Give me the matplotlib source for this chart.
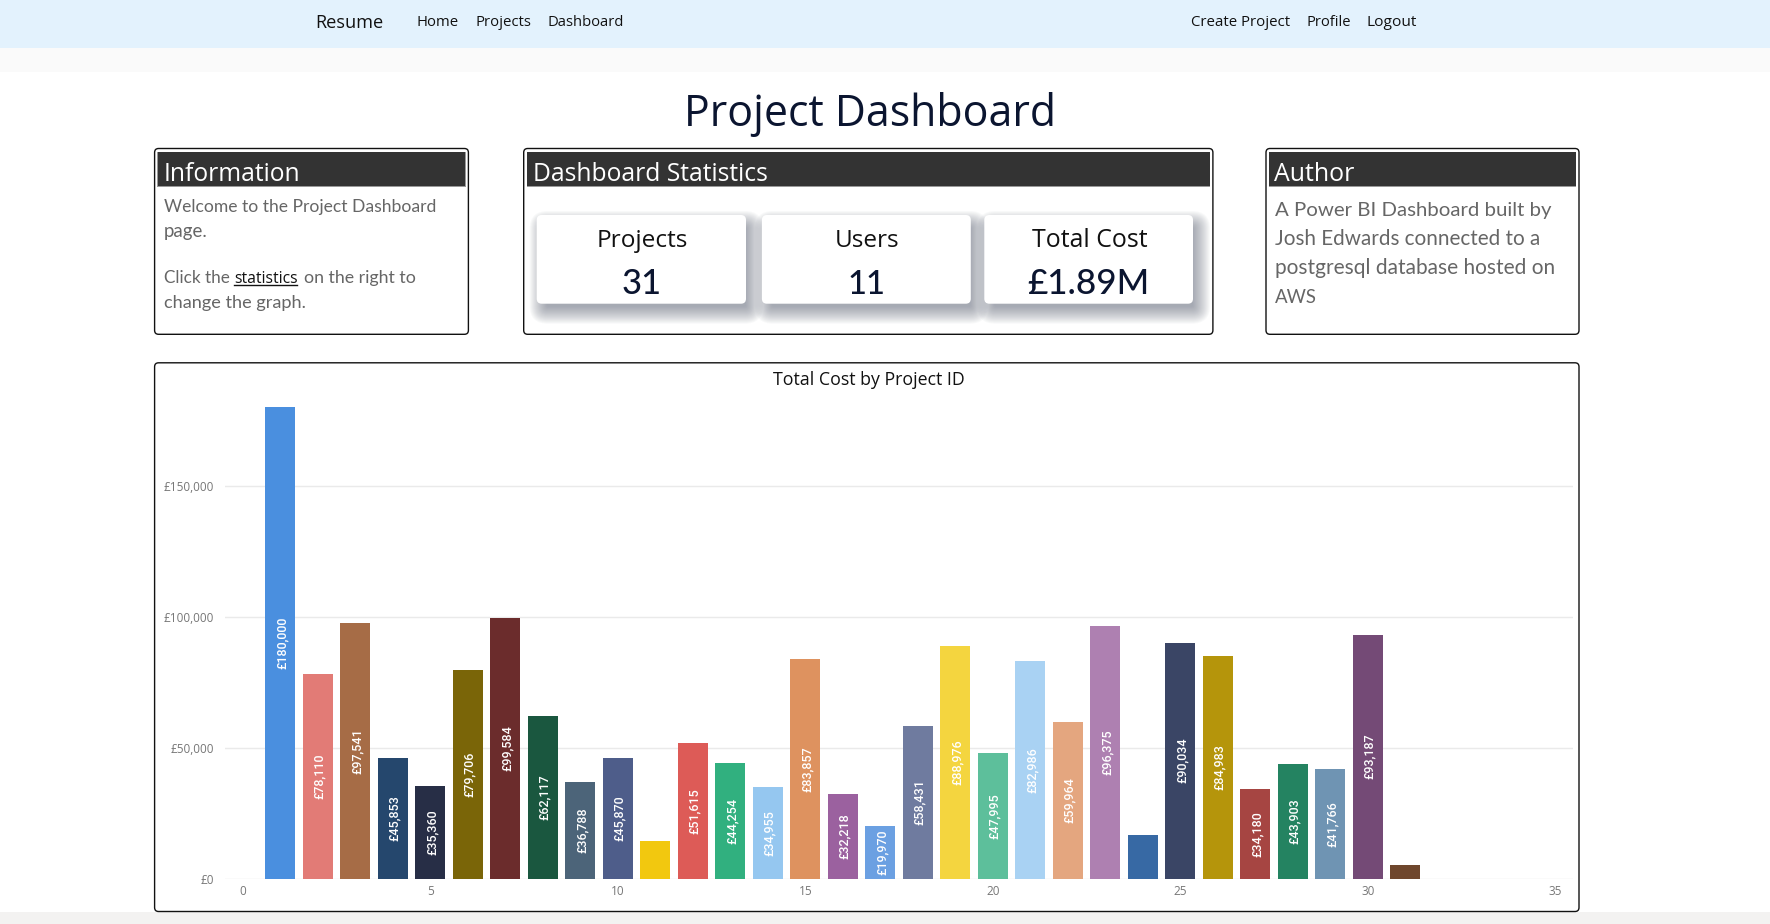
import matplotlib
matplotlib.use("Agg")
import matplotlib.pyplot as plt
from matplotlib.patches import FancyBboxPatch, Rectangle
from matplotlib.ticker import FuncFormatter

W, H = 1770, 924

project_ids = list(range(1, 32))
total_cost = [180000, 78110, 97541, 45853, 35360, 79706, 99584, 62117, 36788, 45870, 14500,
              51615, 44254, 34955, 83857, 32218, 19970, 58431, 88976, 47995, 82986, 59964,
              96375, 16500, 90034, 84983, 34180, 43903, 41766, 93187, 5100]
unlabelled_ids = [11, 24, 31]
bar_colors = ["#4A8FDF", "#E27B76", "#A66C46", "#25476D", "#272E46", "#7A6508", "#6B2C2C", "#1A573F",
              "#4C6479", "#4E5D8A", "#F2C80F", "#DD5B57", "#31B07F", "#95C7F0", "#DE925F", "#9B619F",
              "#6BA0E2", "#6F7B9F", "#F4D53F", "#5DBF9B", "#A9D2F3", "#E4A67F", "#AE80B1", "#3769A4",
              "#3A4565", "#B5950B", "#A64542", "#248361", "#6F94B3", "#744A76", "#6F472D"]
y_ticks = [0, 50000, 100000, 150000]
x_ticks = [0, 5, 10, 15, 20, 25, 30, 35]
stat_names = ["Projects", "Users", "Total Cost"]
stat_values = ["31", "11", "£1.89M"]

fig = plt.figure(figsize=(W / 100, H / 100), dpi=100, facecolor="white")
bg = fig.add_axes([0, 0, 1, 1])
bg.set_xlim(0, W)
bg.set_ylim(H, 0)
bg.axis("off")


def rect(x0, y0, x1, y1, color, z=1):
    bg.add_patch(Rectangle((x0, y0), x1 - x0, y1 - y0, fc=color, ec="none", zorder=z))


def rounded(x0, y0, x1, y1, r=3, fc="white", ec="none", lw=0, alpha=None, z=2):
    bg.add_patch(FancyBboxPatch((x0 + r, y0 + r), x1 - x0 - 2 * r, y1 - y0 - 2 * r,
                                boxstyle=f"round,pad={r},rounding_size={r}", fc=fc, ec=ec, lw=lw,
                                alpha=alpha, zorder=z, mutation_aspect=1))


def put(s, x, y, width, family="Open Sans", weight="normal", color="#111111", ha="left", z=6):
    """Place text on its baseline and size it to a measured pixel width."""
    t = bg.text(x, y, s, family=family, weight=weight, color=color, ha=ha, va="baseline",
                fontsize=20, zorder=z)
    w = t.get_window_extent(fig.canvas.get_renderer()).width
    t.set_fontsize(20 * width / w)
    return t


# page bands
rect(0, 0, W, 48, "#E3F2FD")
rect(0, 48, W, 72, "#FAFAFA")
rect(0, 912, W, H, "#F3F2F1")

# nav
put("Resume", 315.5, 28, 68)
for s, x, w in [("Home", 416.5, 42), ("Projects", 475.7, 55.5), ("Dashboard", 547.4, 76),
                ("Create Project", 1190.9, 98.5), ("Profile", 1306.6, 44.5), ("Logout", 1367, 50)]:
    put(s, x, 26, w)

put("Project Dashboard", 869.5, 126, 371, color="#0B1530", ha="center")

# panels
panel_edge = "#111111"
for x0, x1 in [(154.6, 468.4), (523.7, 1212.9), (1266, 1579)]:
    rounded(x0, 148.5, x1, 334.3, r=4, ec=panel_edge, lw=1.0)
    rect(x0 + 2.8, 151.7, x1 - 2.8, 186.6, "#999999", z=3)
    rect(x0 + 3.4, 152.2, x1 - 3.4, 185.8, "#333333", z=4)
rounded(154.6, 362.8, 1579, 911.5, r=4, ec=panel_edge, lw=1.0)

put("Information", 163.2, 181, 136, color="white")
put("Dashboard Statistics", 532.8, 181, 234, color="white")
put("Author", 1274.5, 181, 80, color="white")

body = "#666666"
put("Welcome to the Project Dashboard", 163.7, 212, 272.6, "Lato", "normal", body)
put("page.", 163.7, 237, 43.5, "Lato", "normal", body)
put("Click the", 163.7, 283, 66, "Lato", "normal", body)
put("statistics", 234.2, 283, 63.2, "Open Sans", "normal", "#111111")
bg.plot([234.2, 297.4], [285.2, 285.2], color="#111111", lw=1, zorder=6)
put("on the right to", 303.6, 283, 112, "Lato", "normal", body)
put("change the graph.", 163.7, 308, 142, "Lato", "normal", body)

put("A Power BI Dashboard built by", 1275, 216, 276.5, "Lato", "normal", body)
put("Josh Edwards connected to a", 1275, 245, 264.5, "Lato", "normal", body)
put("postgresql database hosted on", 1275, 274, 279, "Lato", "normal", body)
put("AWS", 1275, 302.7, 42, "Lato", "normal", body)

# stat cards
cards = [(536.7, 746), (761.9, 970.8), (984.3, 1193)]
value_widths = [40, 38, 122]
name_widths = [91, 64, 115]
for (x0, x1), name, val, nw, vw in zip(cards, stat_names, stat_values, name_widths, value_widths):
    for g in range(12, -6, -1):
        rounded(x0 + 5 - g, 215 + 8 - g, x1 + 5 + g, 303.7 + 8 + g, r=max(g + 6, 2), fc="#5F6678", alpha=0.04, z=3)
    rounded(x0, 215, x1, 303.7, r=5, fc="white", z=4)
    cx = (x0 + x1) / 2
    put(name, cx + 1, 246.7, nw, ha="center", color="#111111")
    put(val, cx, 294.3, vw, "Lato", "medium", "#0B1530", ha="center")

put("Total Cost by Project ID", 868.5, 385, 191, ha="center", color="#111111")

# chart
ax_l, ax_r, ax_t, ax_b = 225, 1573, 400, 878.5
ax = fig.add_axes([ax_l / W, 1 - ax_b / H, (ax_r - ax_l) / W, (ax_b - ax_t) / H], facecolor="none", zorder=5)
ax.set_xlim(-0.475, 35.47)
ax.set_ylim(0, 182800)
ax.bar(project_ids, total_cost, width=0.8, color=bar_colors, zorder=3, clip_on=False)
for pid, val in zip(project_ids, total_cost):
    if pid not in unlabelled_ids:
        ax.text(pid + 0.04, val / 2, f"£{val:,}", rotation=90, ha="center", va="center", color="white",
                family="Roboto", weight="medium", fontsize=9, zorder=4)
ax.set_xticks(x_ticks)
ax.set_yticks(y_ticks)
ax.yaxis.set_major_formatter(FuncFormatter(lambda v, _: f"£{int(v):,}"))
ax.tick_params(axis="both", length=0, labelsize=8.5, labelcolor="#777777")
ax.tick_params(axis="y", pad=8)
ax.tick_params(axis="x", pad=5)
for t in ax.get_xticklabels() + ax.get_yticklabels():
    t.set_family("Open Sans")
ax.grid(axis="y", color="#EAEAEA", lw=1, zorder=0)
ax.grid(axis="x", visible=False)
for s in ax.spines.values():
    s.set_visible(False)

fig.savefig("out.png", dpi=100)
